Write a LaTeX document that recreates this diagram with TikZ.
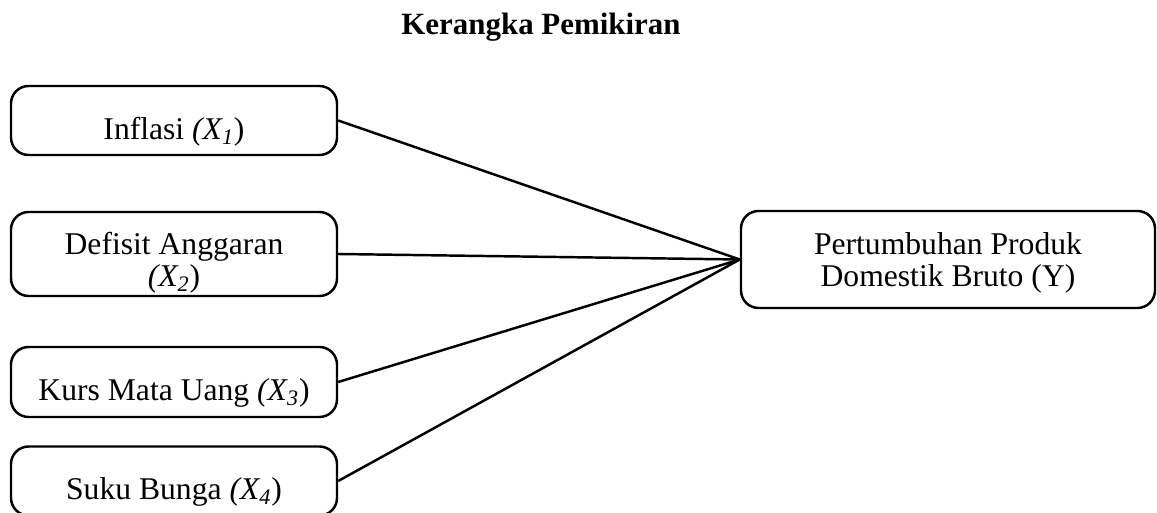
\documentclass[tikz,border=0pt]{standalone}
\usepackage{fontspec}
\setmainfont{Liberation Serif}
\usepackage{tikz}
\usetikzlibrary{positioning,calc}

\newcommand{\varx}[1]{\textit{(X\textsubscript{#1}})}

\begin{document}
\begin{tikzpicture}[
        kotak/.style={draw,line width=1.4pt,rounded corners=10pt,align=center,
            font=\fontsize{18}{18.3}\selectfont,inner sep=0pt,text depth=0pt},
        satu/.style={text height=0.76cm},
        garis/.style={line width=1.4pt}]
            \useasboundingbox (0,0) rectangle (23.14,-10.26);
            \node[font=\fontsize{17.6}{20}\selectfont\bfseries] (judul) at (10.82,-0.55) {Kerangka Pemikiran};
            \node[kotak,satu,minimum width=6.52cm,minimum height=1.38cm] (inflasi) at (3.48,-2.41) {Inflasi \varx{1}};
            \node[kotak,text height=1.32cm,minimum width=6.52cm,minimum height=1.68cm] (defisit) at (3.48,-5.08) {Defisit Anggaran\\ \varx{2}};
            \node[kotak,satu,minimum width=6.52cm,minimum height=1.40cm] (kurs) at (3.48,-7.64) {Kurs Mata Uang \varx{3}};
            \node[kotak,satu,minimum width=6.52cm,minimum height=1.38cm] (suku) at (3.48,-9.62) {Suku Bunga \varx{4}};
            \node[kotak,text height=1.1cm,minimum width=8.28cm,minimum height=1.94cm] (pdb) at (18.96,-5.19) {Pertumbuhan Produk\\ Domestik Bruto (Y)};
            \draw[garis] (inflasi.east) -- (pdb.west);
            \draw[garis] (defisit.east) -- (pdb.west);
            \draw[garis] (kurs.east) -- (pdb.west);
            \draw[garis] (suku.east) -- (pdb.west);
        \end{tikzpicture}
\end{document}
